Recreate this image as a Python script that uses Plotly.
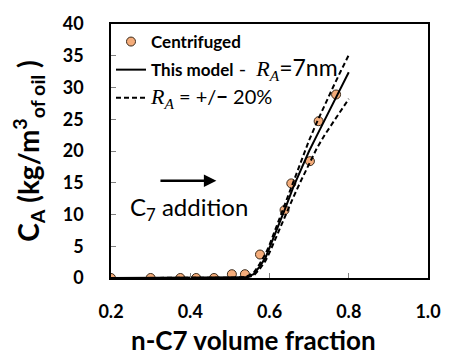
import plotly.graph_objects as go

# Centrifuged measurements
cent_x = [0.2, 0.3, 0.375, 0.415, 0.46, 0.505, 0.538, 0.576, 0.638, 0.655, 0.702, 0.724, 0.768]
cent_y = [0.0, 0.0, 0.0, 0.0, 0.0, 0.6, 0.6, 3.7, 10.7, 14.9, 18.4, 24.7, 28.9]

# Model curves
model_x = [0.2, 0.3, 0.4, 0.5, 0.54, 0.56, 0.575, 0.59, 0.60, 0.62, 0.64, 0.66, 0.68, 0.70, 0.72, 0.74, 0.76, 0.78, 0.80]
model_y = [0.0, 0.0, 0.0, 0.0, 0.1, 0.6, 1.8, 3.2, 4.7, 7.8, 11.0, 14.3, 17.3, 20.0, 22.5, 25.0, 27.5, 30.0, 32.4]
upper_y = [0.0, 0.0, 0.0, 0.0, 0.15, 0.8, 2.2, 3.8, 5.2, 8.5, 11.8, 15.3, 18.6, 21.7, 24.6, 27.4, 30.0, 32.6, 35.1]
lower_y = [0.0, 0.0, 0.0, 0.0, 0.05, 0.4, 1.4, 2.7, 4.0, 6.9, 9.9, 12.7, 15.4, 18.0, 20.5, 22.6, 24.5, 26.4, 28.2]

x_ticks = [0.2, 0.4, 0.6, 0.8, 1.0]
x_tick_labels = ["0.2", "0.4", "0.6", "0.8", "1.0"]
y_ticks = [0, 5, 10, 15, 20, 25, 30, 35, 40]
y_tick_labels = ["0", "5", "10", "15", "20", "25", "30", "35", "40"]

FONT = "Lato"
RA = '<span style="font-family:Liberation Serif;font-size:22px"><i>R</i><sub><i>A</i></sub></span>'
REG = '<span style="font-size:%dpx">%s</span>'

fig = go.Figure()
fig.add_trace(go.Scatter(
    x=cent_x, y=cent_y, mode="markers", name="<b>Centrifuged</b>", legendgroup="a",
    marker=dict(size=9, color="#F4AC7A", line=dict(color="#3a2a1a", width=1)),
))
fig.add_trace(go.Scatter(
    x=model_x, y=model_y, mode="lines", legendgroup="b",
    name="<b>This model</b>" + REG % (20, "&nbsp;-&nbsp;&nbsp;") + RA + REG % (23, "=7nm"),
    line=dict(color="black", width=2),
))
fig.add_trace(go.Scatter(
    x=model_x, y=upper_y, mode="lines", legendgroup="c",
    name=RA + REG % (20, " = +/<b>−</b> 20%"),
    line=dict(color="black", width=2, dash="5px,3px"),
))
fig.add_trace(go.Scatter(
    x=model_x, y=lower_y, mode="lines", legendgroup="c", showlegend=False,
    line=dict(color="black", width=2, dash="5px,3px"),
))

fig.add_annotation(x=0.466, y=15.3, ax=0.321, ay=15.3, xref="x", yref="y", axref="x", ayref="y",
                   text="", showarrow=True, arrowhead=2, arrowsize=1, arrowwidth=2.5, arrowcolor="black")
fig.add_annotation(x=0.398, y=10.9, xref="x", yref="y", text="C<sub>7</sub> addition", showarrow=False,
                   font=dict(family=FONT, size=24, color="black"))
fig.add_annotation(x=0.448, y=-0.245, xref="paper", yref="paper", xanchor="center", yanchor="middle",
                   text="<b>n-C7 volume fraction</b>", showarrow=False,
                   font=dict(family=FONT, size=26, color="black"))

fig.update_layout(
    width=453, height=356,
    margin=dict(l=111, r=18, t=20, b=78),
    paper_bgcolor="white", plot_bgcolor="white",
    font=dict(family=FONT, color="black"),
    showlegend=True,
    legend=dict(x=0.0, y=1.0, xanchor="left", yanchor="top", bgcolor="rgba(0,0,0,0)",
                font=dict(family=FONT, size=17, color="black"), tracegroupgap=3,
                itemwidth=30),
    xaxis=dict(range=[0.2, 1.0], tickvals=x_ticks, ticktext=["<b>%s</b>" % t for t in x_tick_labels],
               ticks="inside", ticklen=5, tickcolor="#808080", showgrid=False, zeroline=False,
               showline=True, linecolor="black", linewidth=1.5, mirror=True,
               ticklabelstandoff=17,
               tickfont=dict(family=FONT, size=18, color="black")),
    yaxis=dict(range=[0, 40], tickvals=y_ticks, ticktext=["<b>%s</b>" % t for t in y_tick_labels],
               ticks="inside", ticklen=5, tickcolor="#808080", showgrid=False, zeroline=False,
               showline=True, linecolor="black", linewidth=1.5, mirror=True,
               ticklabelstandoff=22,
               tickfont=dict(family=FONT, size=18, color="black"),
               title=dict(text="<b>C<sub>A</sub> (kg/m<sup>3</sup><sub>of oil</sub> )</b>",
                          font=dict(family=FONT, size=28, color="black"), standoff=15)),
)

fig.write_html("out.html")
